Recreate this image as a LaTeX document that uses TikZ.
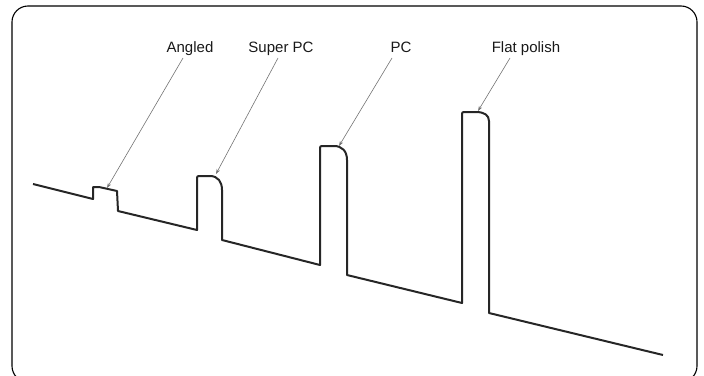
\documentclass[tikz,border=0pt]{standalone}
\usepackage{fontspec}
\setmainfont{Liberation Sans}
\usetikzlibrary{arrows.meta}
\begin{document}
\begin{tikzpicture}[x=1pt,y=-1pt,
  trace/.style={line width=2pt,draw=black!85,line join=round},
  frame/.style={line width=1.1pt,draw=black,rounded corners=16pt},
  lbl/.style={font=\fontsize{15}{17}\selectfont,text=black!90,inner sep=0pt,anchor=base},
  pointer/.style={draw=black!55,line width=0.6pt,-{Stealth[length=5pt,width=3.5pt]}}]
\useasboundingbox (0,0) rectangle (704,375);
\begin{scope}
\clip (0,0) rectangle (704,375);
\draw[frame] (12,6) rectangle (697,382);
\end{scope}
% trace
\draw[trace] (33,184) -- (93,199) -- (93,187) -- (99,187) -- (117,191) -- (118,211)
  -- (197,230) -- (197,179) .. controls (197,176) .. (200,176) -- (210,176)
  .. controls (218,176) and (222,182) .. (222,190) -- (222,240)
  -- (320,265) -- (320,149) .. controls (320,146) .. (323,146) -- (334,146)
  .. controls (342,146) and (347,151) .. (347,160) -- (347,275)
  -- (462,303) -- (462,115) .. controls (462,112) .. (465,112) -- (476,112)
  .. controls (484,112) and (489,115) .. (489,121) -- (489,313) -- (663,355);
% targets
\coordinate (tA) at (107,188);
\coordinate (tS) at (216,174);
\coordinate (tP) at (339,146);
\coordinate (tF) at (478,111);
% labels
\node[lbl] (lA) at (190,52) {Angled};
\node[lbl] (lS) at (281,52) {Super PC};
\node[lbl] (lP) at (401,52) {PC};
\node[lbl] (lF) at (526,52) {Flat polish};
\coordinate (sA) at (183,58);
\coordinate (sS) at (278,58);
\coordinate (sP) at (392,58);
\coordinate (sF) at (510,58);
\draw[pointer] (sA) -- (tA);
\draw[pointer] (sS) -- (tS);
\draw[pointer] (sP) -- (tP);
\draw[pointer] (sF) -- (tF);
\end{tikzpicture}
\end{document}
